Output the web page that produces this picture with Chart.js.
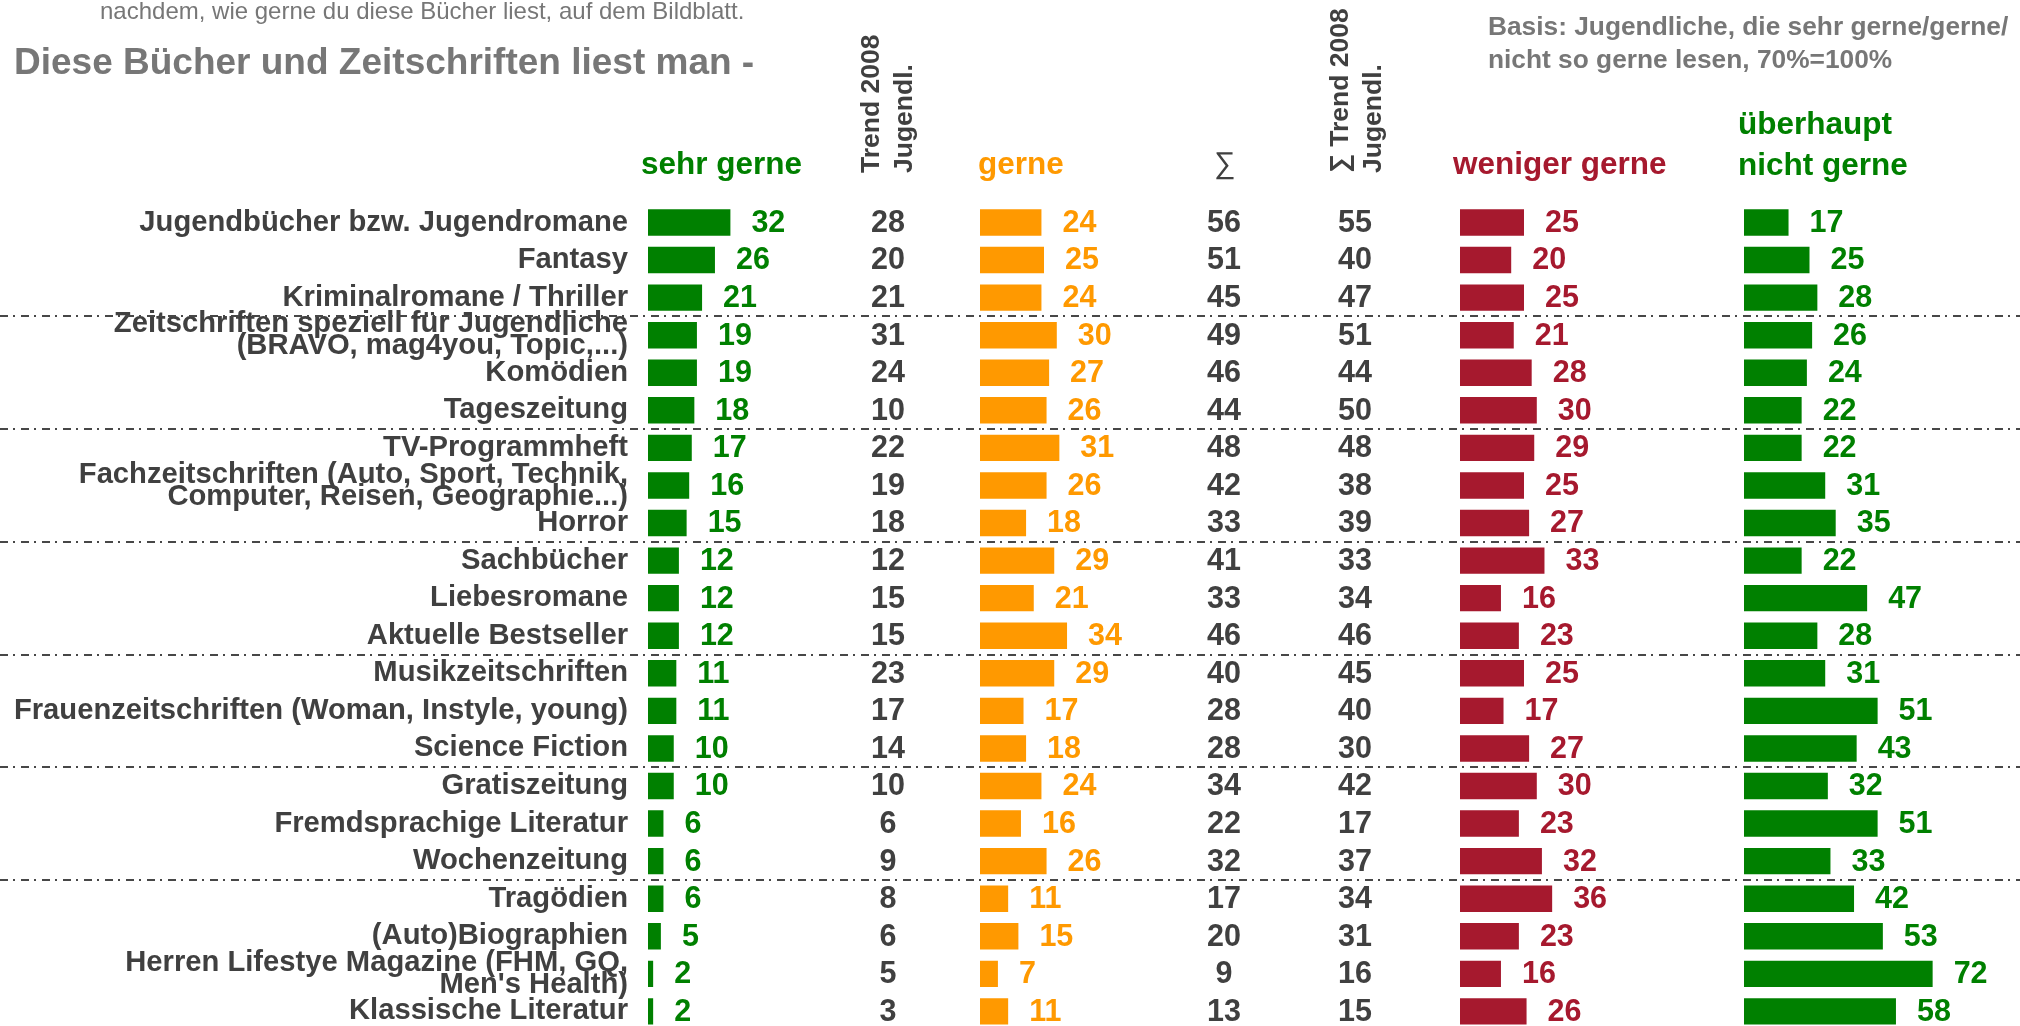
<!DOCTYPE html>
<html lang="de">
<head>
<meta charset="utf-8">
<title>Diese Bücher und Zeitschriften liest man</title>
<script src="https://cdn.jsdelivr.net/npm/chart.js@4.4.1/dist/chart.umd.min.js"></script>
<style>
  html, body { margin: 0; padding: 0; background: #fff; overflow: hidden; }
  #wrap { position: relative; width: 2020px; height: 1026px; overflow: hidden;
          font-family: "Liberation Sans", Arial, sans-serif; }
  #chart { position: absolute; left: 0; top: 0; }
  .t { position: absolute; white-space: nowrap; line-height: 1; }
  .note { left: 100px; top: -1px; font-size: 24px; color: #777; }
  .title { left: 14px; top: 43px; font-size: 37px; font-weight: bold; color: #777; }
  .basis { left: 1488px; top: 10px; font-size: 26.3px; line-height: 33px; font-weight: bold; color: #777; }
  .head { top: 148px; font-size: 31.5px; font-weight: bold; }
  .head2 { top: 103px; line-height: 41px; }
  .rot { top: 173px; font-size: 26.5px; line-height: 33px; font-weight: bold; color: #404040;
         transform-origin: 0 0; transform: rotate(-90deg); }
  .sigma { left: 1195px; width: 60px; text-align: center; top: 148px; font-size: 30px; color: #404040; }
</style>
</head>
<body>
<div id="wrap">
  <canvas id="chart" width="2020" height="1040"></canvas>
  <div class="t note">nachdem, wie gerne du diese Bücher liest, auf dem Bildblatt.</div>
  <div class="t title">Diese Bücher und Zeitschriften liest man -</div>
  <div class="t basis">Basis: Jugendliche, die sehr gerne/gerne/<br>nicht so gerne lesen, 70%=100%</div>
  <div class="t head" style="left:641px;color:#008000">sehr gerne</div>
  <div class="t rot" style="left:854px">Trend 2008<br>Jugendl.</div>
  <div class="t head" style="left:978px;color:#FF9900">gerne</div>
  <div class="t sigma">∑</div>
  <div class="t rot" style="left:1323px">∑ Trend 2008<br>Jugendl.</div>
  <div class="t head" style="left:1453px;color:#A6192E">weniger gerne</div>
  <div class="t head head2" style="left:1738px;color:#008000">überhaupt<br>nicht gerne</div>
</div>
<script>
/* Lesevorlieben — Bücher und Zeitschriften */
const categories = [
  'Jugendbücher bzw. Jugendromane',
  'Fantasy',
  'Kriminalromane / Thriller',
  ['Zeitschriften speziell für Jugendliche', '(BRAVO, mag4you, Topic,...)'],
  'Komödien',
  'Tageszeitung',
  'TV-Programmheft',
  ['Fachzeitschriften (Auto, Sport, Technik,', 'Computer, Reisen, Geographie...)'],
  'Horror',
  'Sachbücher',
  'Liebesromane',
  'Aktuelle Bestseller',
  'Musikzeitschriften',
  'Frauenzeitschriften (Woman, Instyle, young)',
  'Science Fiction',
  'Gratiszeitung',
  'Fremdsprachige Literatur',
  'Wochenzeitung',
  'Tragödien',
  '(Auto)Biographien',
  ['Herren Lifestye Magazine (FHM, GQ,', "Men's Health)"],
  'Klassische Literatur'
];
const sehrGerne       = [32, 26, 21, 19, 19, 18, 17, 16, 15, 12, 12, 12, 11, 11, 10, 10, 6, 6, 6, 5, 2, 2];
const trend2008       = [28, 20, 21, 31, 24, 10, 22, 19, 18, 12, 15, 15, 23, 17, 14, 10, 6, 9, 8, 6, 5, 3];
const gerne           = [24, 25, 24, 30, 27, 26, 31, 26, 18, 29, 21, 34, 29, 17, 18, 24, 16, 26, 11, 15, 7, 11];
const summe           = [56, 51, 45, 49, 46, 44, 48, 42, 33, 41, 33, 46, 40, 28, 28, 34, 22, 32, 17, 20, 9, 13];
const summeTrend2008  = [55, 40, 47, 51, 44, 50, 48, 38, 39, 33, 34, 46, 45, 40, 30, 42, 17, 37, 34, 31, 16, 15];
const wenigerGerne    = [25, 20, 25, 21, 28, 30, 29, 25, 27, 33, 16, 23, 25, 17, 27, 30, 23, 32, 36, 23, 16, 26];
const ueberhauptNicht = [17, 25, 28, 26, 24, 22, 22, 31, 35, 22, 47, 28, 31, 51, 43, 32, 51, 33, 42, 53, 72, 58];

const GREEN = '#008000', ORANGE = '#FF9900', RED = '#A6192E', DARK = '#404040';
const FONT = '"Liberation Sans", Arial, sans-serif';
const PLOT_LEFT = 648, PLOT_RIGHT = 2020;
const GROUP_SIZE = 3;

// each bar column gets its own hidden value axis: zero at a fixed pixel, own px/unit
function colAxis(zeroPx, pxPerUnit) {
  return {
    type: 'linear', axis: 'x', display: false, bounds: 'data',
    min: (PLOT_LEFT - zeroPx) / pxPerUnit,
    max: (PLOT_RIGHT - zeroPx) / pxPerUnit
  };
}

// plain number columns between the bars
const textColumns = [
  { data: trend2008, x: 888 },
  { data: summe, x: 1224 },
  { data: summeTrend2008, x: 1355 }
];

const rowDecor = {
  id: 'rowDecor',
  beforeDatasetsDraw(chart) {
    const ctx = chart.ctx, y = chart.scales.y;
    ctx.save();
    ctx.strokeStyle = '#474747';
    ctx.lineWidth = 2;
    ctx.setLineDash([8, 5, 2, 6]);
    for (let i = GROUP_SIZE - 1; i < categories.length - 1; i += GROUP_SIZE) {
      if (i >= 18) break;
      const py = Math.round((y.getPixelForValue(i) + y.getPixelForValue(i + 1)) / 2);
      ctx.beginPath();
      ctx.moveTo(0, py);
      ctx.lineTo(chart.width, py);
      ctx.stroke();
    }
    ctx.restore();
  },
  afterDatasetsDraw(chart) {
    const ctx = chart.ctx, y = chart.scales.y;
    ctx.save();
    ctx.font = 'bold 30.5px ' + FONT;
    ctx.textBaseline = 'middle';
    ctx.textAlign = 'left';
    chart.data.datasets.forEach((ds, d) => {
      const meta = chart.getDatasetMeta(d);
      ctx.fillStyle = ds.backgroundColor;
      meta.data.forEach((bar, i) => {
        ctx.fillText(String(ds.data[i]), bar.x + 21, bar.y + 1);
      });
    });
    ctx.textAlign = 'center';
    ctx.fillStyle = DARK;
    textColumns.forEach(col => {
      col.data.forEach((v, i) => {
        ctx.fillText(String(v), col.x, y.getPixelForValue(i) + 1);
      });
    });
    ctx.restore();
  }
};

new Chart(document.getElementById('chart'), {
  type: 'bar',
  data: {
    labels: categories,
    datasets: [
      { label: 'sehr gerne', data: sehrGerne, xAxisID: 'xSehr', backgroundColor: GREEN },
      { label: 'gerne', data: gerne, xAxisID: 'xGerne', backgroundColor: ORANGE },
      { label: 'weniger gerne', data: wenigerGerne, xAxisID: 'xWeniger', backgroundColor: RED },
      { label: 'überhaupt nicht gerne', data: ueberhauptNicht, xAxisID: 'xNicht', backgroundColor: GREEN }
    ]
  },
  options: {
    indexAxis: 'y',
    responsive: false,
    animation: false,
    datasets: { bar: { grouped: false, categoryPercentage: 1, barPercentage: 0.703, borderWidth: 0 } },
    layout: { padding: { top: 203.7, bottom: 9.8, left: 0, right: 0 } },
    plugins: { legend: { display: false }, tooltip: { enabled: false } },
    scales: {
      y: {
        type: 'category', position: 'left', offset: true,
        grid: { display: false, drawTicks: false }, border: { display: false },
        afterFit: s => { s.width = PLOT_LEFT; s.paddingTop = 0; s.paddingBottom = 0; },
        ticks: {
          autoSkip: false, padding: 20, color: DARK,
          font: { family: FONT, size: 29.2, weight: 'bold', lineHeight: '22px' }
        }
      },
      xSehr: colAxis(648, 2.575),
      xGerne: colAxis(980, 2.56),
      xWeniger: colAxis(1460, 2.56),
      xNicht: colAxis(1744, 2.62)
    }
  },
  plugins: [rowDecor]
});
</script>
</body>
</html>
